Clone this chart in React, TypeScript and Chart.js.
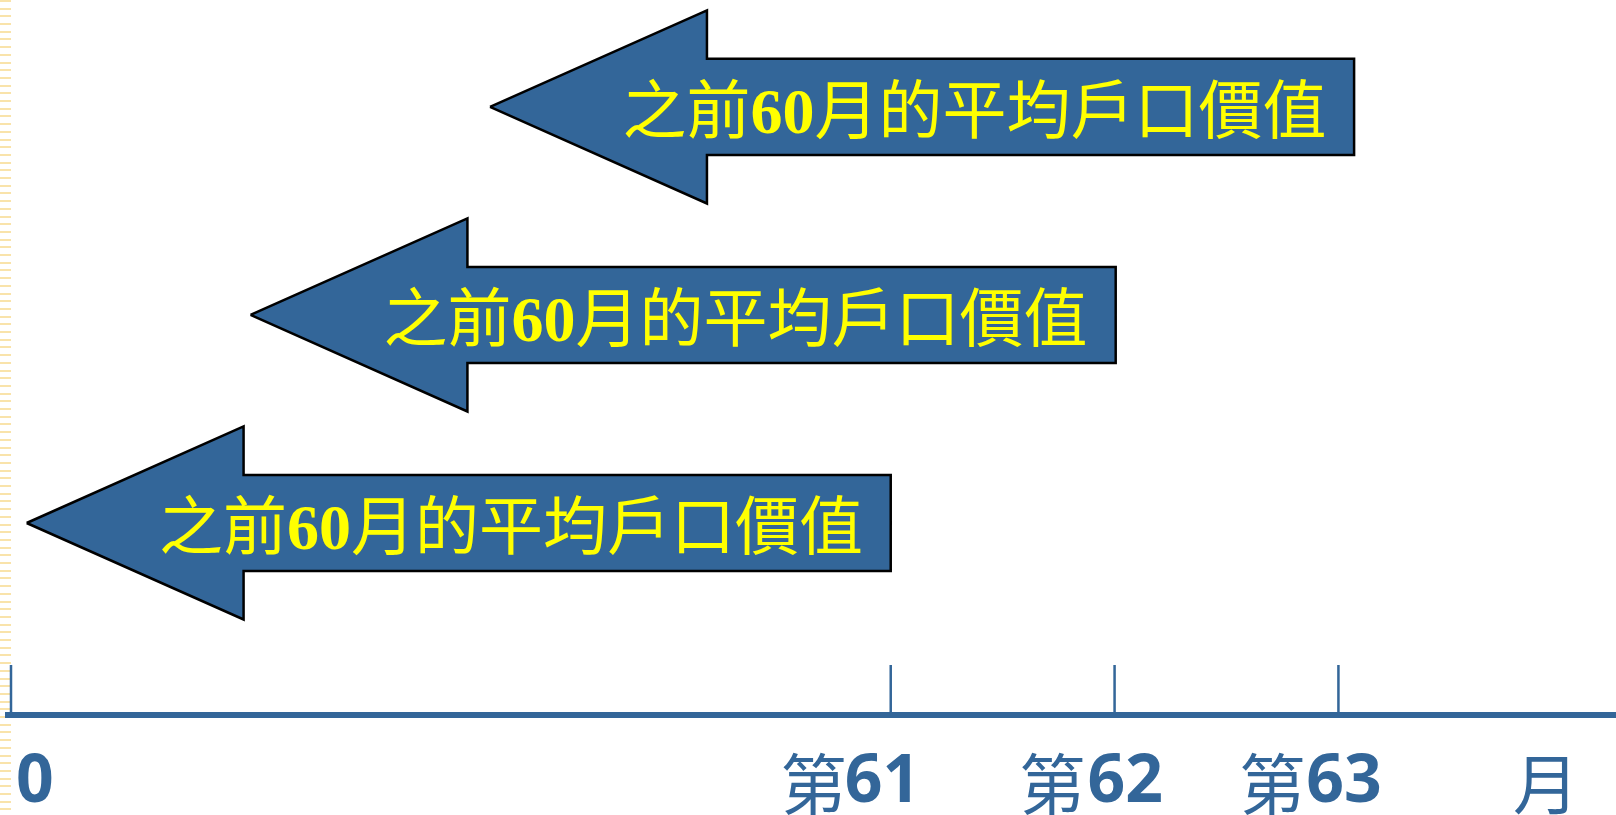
import React, { useEffect, useRef } from 'react';
import { Chart, registerables } from 'chart.js';

Chart.register(...registerables);

// ---- data (schematic month axis: 1 unit = spacing between 第61 and 第62) ----
const ROWS = [1, 2, 3];
const ARROW_TIPS = [0.07, 1.07, 2.14];
const ARROW_TAILS = [3.93, 4.935, 6.0];
const ARROW_TEXT = '之前60月的平均戶口價值';

const TICK_POSITIONS = [0, 3.93, 4.93, 5.93];
const LABEL_FRAGMENTS = ['0', '第', '61', '第', '62', '第', '63', '月'];
const LABEL_POSITIONS = [0.107, 3.585, 3.893, 4.652, 4.978, 5.634, 5.955, 6.857];

// ---- style constants ----
const X_MIN = -0.0134;
const X_MAX = 7.17;
const Y_MIN = 0.077;
const Y_MAX = 3.514;
const HEAD_LEN = 0.969;
const HEAD_HALF = 0.464;
const SHAFT_HALF = 0.231;
const TICK_H = 0.24;
const TEXT_SHIFT = 0.234;
const BLUE = '#336699';

const arrowDatasets = ROWS.map((r, i) => {
  const tip = ARROW_TIPS[i];
  const tail = ARROW_TAILS[i];
  const neck = tip + HEAD_LEN;
  return {
    type: 'line' as const,
    data: [
      { x: tip, y: r },
      { x: neck, y: r + HEAD_HALF },
      { x: neck, y: r + SHAFT_HALF },
      { x: tail, y: r + SHAFT_HALF },
      { x: tail, y: r - SHAFT_HALF },
      { x: neck, y: r - SHAFT_HALF },
      { x: neck, y: r - HEAD_HALF },
      { x: tip, y: r },
    ],
    borderColor: '#000000',
    borderWidth: 2.5,
    borderJoinStyle: 'miter' as const,
    backgroundColor: BLUE,
    fill: 'shape' as any,
    pointRadius: 0,
    tension: 0,
    clip: false as any,
  };
});

const tickDataset = {
  type: 'line' as const,
  data: TICK_POSITIONS.flatMap((p) => [
    { x: p, y: Y_MIN },
    { x: p, y: Y_MIN + TICK_H },
    { x: p, y: null as any },
  ]),
  borderColor: BLUE,
  borderWidth: 2.5,
  pointRadius: 0,
  spanGaps: false,
  fill: false,
  clip: false as any,
};

const arrowTextPlugin = {
  id: 'arrowText',
  afterDatasetsDraw(chart: any) {
    const { ctx, scales } = chart;
    const xs = scales.x;
    const ys = scales.y;
    const parts = ARROW_TEXT.split(/(\d+)/).filter((s) => s.length > 0);
    const fontFor = (s: string) =>
      /\d/.test(s) ? 'bold 64px "Liberation Serif"' : '64px "Noto Sans CJK TC"';
    ctx.save();
    ctx.fillStyle = '#FFFF00';
    ctx.textBaseline = 'alphabetic';
    ctx.textAlign = 'left';
    ROWS.forEach((r, i) => {
      const cx = xs.getPixelForValue((ARROW_TIPS[i] + ARROW_TAILS[i]) / 2 + TEXT_SHIFT);
      const by = ys.getPixelForValue(r) + 26;
      let total = 0;
      const widths = parts.map((p) => {
        ctx.font = fontFor(p);
        const w = ctx.measureText(p).width;
        total += w;
        return w;
      });
      let xx = cx - total / 2;
      parts.forEach((p, k) => {
        ctx.font = fontFor(p);
        ctx.fillText(p, xx, by);
        xx += widths[k];
      });
    });
    ctx.restore();
  },
};

export default function App() {
  const ref = useRef<HTMLCanvasElement | null>(null);

  useEffect(() => {
    document.body.style.margin = '0';
    const canvas = ref.current;
    if (!canvas) return;
    const chart = new Chart(canvas, {
      type: 'line',
      data: {
        datasets: [...arrowDatasets, tickDataset] as any,
      },
      options: {
        responsive: false,
        animation: false,
        devicePixelRatio: 1,
        events: [],
        layout: { padding: { left: 8, right: 0, top: 0, bottom: 0 } },
        plugins: {
          legend: { display: false },
          tooltip: { enabled: false },
          title: { display: false },
        },
        scales: {
          x: {
            type: 'linear',
            min: X_MIN,
            max: X_MAX,
            afterBuildTicks: (scale: any) => {
              scale.ticks = LABEL_POSITIONS.map((v) => ({ value: v }));
            },
            afterFit: (scale: any) => {
              scale.height = 100;
              scale.paddingLeft = 0;
              scale.paddingRight = 0;
            },
            grid: { display: false, drawTicks: false },
            border: { display: true, color: BLUE, width: 6 },
            ticks: {
              autoSkip: false,
              maxRotation: 0,
              minRotation: 0,
              padding: 29,
              color: BLUE,
              callback: (_v: any, index: number) => LABEL_FRAGMENTS[index],
              font: (c: any) =>
                /\d/.test(LABEL_FRAGMENTS[c.index] || '')
                  ? { family: '"Open Sans"', size: 66, weight: 'bold' }
                  : { family: '"Noto Sans CJK TC"', size: 66, weight: 'normal' },
            },
          },
          y: {
            type: 'linear',
            display: false,
            min: Y_MIN,
            max: Y_MAX,
          },
        },
      } as any,
      plugins: [arrowTextPlugin],
    });
    return () => chart.destroy();
  }, []);

  return (
    <div
      style={{
        position: 'relative',
        width: 1616,
        height: 815,
        backgroundImage:
          'repeating-linear-gradient(to bottom, #F9E3AA 0px, #F9E3AA 2px, rgba(255,255,255,0) 2px, rgba(255,255,255,0) 7.7px)',
        backgroundSize: '11px 100%',
        backgroundRepeat: 'no-repeat',
      }}
    >
      <canvas ref={ref} width={1616} height={815} style={{ display: 'block' }} />
    </div>
  );
}
